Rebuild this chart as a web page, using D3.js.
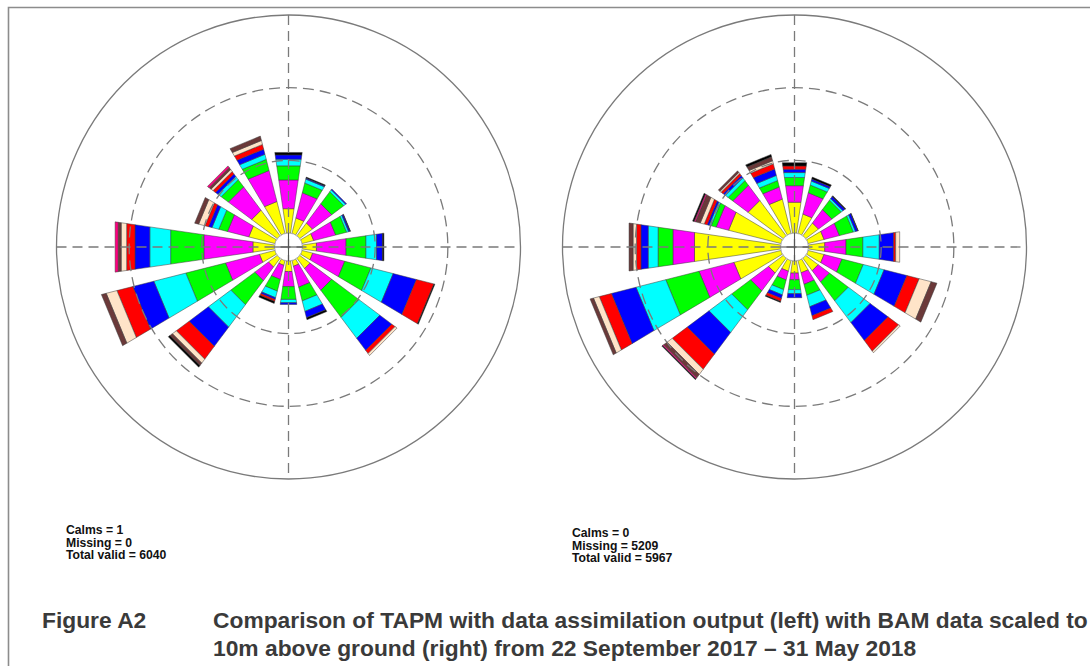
<!DOCTYPE html>
<html>
<head>
<meta charset="utf-8">
<script src="https://cdn.jsdelivr.net/npm/d3@7"></script>
<style>
  body { margin: 0; background: #fff; }
  svg { display: block; }
</style>
</head>
<body>
<div id="chart"></div>
<script>
// Wind directions, clockwise from north
const directions = ["N", "NNE", "NE", "ENE", "E", "ESE", "SE", "SSE", "S", "SSW", "SW", "WSW", "W", "WNW", "NW", "NNW"];

// Speed classes (inner to outer) and their colours
const speedClasses = ["c1", "c2", "c3", "c4", "c5", "c6", "c7", "c8", "c9", "c10"];
const classColors = ["#ffff00", "#ff00ff", "#00ff00", "#00ffff", "#0000ff", "#ff0000", "#ffe4c8", "#6b3939", "#ff0080", "#000000"];

// Frequency (%) by direction, one array per speed class - TAPM (left)
const tapmC1 = [1.70, 1.10, 1.10, 0.83, 0.98, 0.76, 0.89, 0.41, 0.74, 0.34, 0.76, 1.10, 1.51, 1.86, 2.20, 2.27];
const tapmC2 = [2.00, 1.79, 1.65, 1.56, 2.06, 2.27, 1.86, 1.48, 1.05, 1.00, 1.17, 2.41, 3.41, 1.51, 2.00, 2.20];
const tapmC3 = [0.98, 0.69, 1.03, 0.78, 1.38, 1.86, 2.34, 0.98, 0.89, 0.83, 2.06, 2.82, 2.31, 0.62, 0.62, 0.79];
const tapmC4 = [0.46, 0.28, 0.17, 0.14, 0.74, 1.58, 1.79, 0.74, 0.23, 0.47, 1.93, 2.27, 1.45, 0.48, 0.28, 0.36];
const tapmC5 = [0.30, 0.07, 0.07, 0.10, 0.41, 1.65, 1.03, 0.45, 0.12, 0.12, 1.65, 1.49, 1.03, 0.25, 0.21, 0.36];
const tapmC6 = [0, 0, 0, 0, 0, 1.24, 0.28, 0, 0, 0.14, 1.10, 1.13, 0.58, 0.25, 0.21, 0.34];
const tapmC7 = [0, 0, 0, 0, 0, 0, 0.17, 0, 0, 0, 0.34, 0.76, 0.38, 0.45, 0.17, 0.28];
const tapmC8 = [0, 0, 0, 0, 0, 0, 0, 0, 0, 0, 0.21, 0.34, 0.21, 0.28, 0.17, 0.31];
const tapmC9 = [0, 0, 0, 0, 0, 0, 0, 0, 0, 0, 0, 0, 0.21, 0, 0.14, 0];
const tapmC10 = [0.17, 0.07, 0, 0.03, 0.10, 0.07, 0, 0.14, 0, 0.14, 0.14, 0, 0, 0, 0, 0];

// Frequency (%) by direction - BAM scaled to 10m (right)
const bamC1 = [2.15, 1.38, 1.10, 1.14, 1.14, 1.14, 1.07, 0.87, 0.85, 0.76, 1.27, 3.34, 5.99, 3.72, 3.03, 2.44];
const bamC2 = [1.15, 1.51, 1.15, 1.09, 1.48, 1.27, 0.97, 0.82, 0.46, 0.62, 1.54, 2.48, 1.50, 0.88, 1.31, 0.86];
const bamC3 = [0.57, 0.55, 0.81, 0.99, 1.17, 1.51, 1.62, 0.78, 0.69, 0.69, 1.62, 2.36, 1.03, 0.36, 0.40, 0.46];
const bamC4 = [0.34, 0.28, 0.14, 0.15, 1.14, 1.48, 1.87, 0.81, 0.28, 0.37, 1.95, 2.11, 0.69, 0.14, 0.24, 0.36];
const bamC5 = [0.23, 0.14, 0.17, 0.17, 1.00, 1.62, 1.54, 0.64, 0.28, 0.25, 1.87, 1.75, 0.50, 0.14, 0.19, 0.46];
const bamC6 = [0.23, 0, 0, 0, 0.14, 0.87, 0.91, 0.28, 0, 0.21, 1.29, 0.86, 0.31, 0.21, 0.17, 0.37];
const bamC7 = [0, 0, 0, 0, 0.28, 0.85, 0.14, 0, 0, 0, 0.44, 0.41, 0.24, 0.28, 0.10, 0.21];
const bamC8 = [0, 0, 0, 0, 0, 0.41, 0, 0, 0, 0, 0.31, 0.24, 0.28, 0.34, 0.14, 0.28];
const bamC9 = [0, 0, 0, 0, 0, 0, 0, 0, 0, 0, 0.08, 0, 0, 0.10, 0, 0];
const bamC10 = [0.23, 0.14, 0.07, 0.03, 0, 0, 0, 0, 0, 0.07, 0.06, 0, 0, 0.10, 0, 0.17];

// Ring values (%) - dashed rings and the outer solid ring
const ringValues = [5, 10];
const outerValue = 15;

const tapmStats = ["Calms = 1", "Missing = 0", "Total valid = 6040"];
const bamStats = ["Calms = 0", "Missing = 5209", "Total valid = 5967"];

const captionLabel = "Figure A2";
const captionLines = [
  "Comparison of TAPM with data assimilation output (left) with BAM data scaled to",
  "10m above ground (right) from 22 September 2017 \u2013 31 May 2018"
];

// Layout
const width = 1090, height = 666;
const calmRadius = 14, outerRadius = 232;
const wedgeHalf = 8.25 * Math.PI / 180;
const gridColor = "#7a7a7a";

function makeTable(cols) {
  return directions.map((d, i) => {
    const row = { dir: d, idx: i };
    speedClasses.forEach((k, j) => { row[k] = cols[j][i]; });
    return row;
  });
}

const tapmTable = makeTable([tapmC1, tapmC2, tapmC3, tapmC4, tapmC5, tapmC6, tapmC7, tapmC8, tapmC9, tapmC10]);
const bamTable = makeTable([bamC1, bamC2, bamC3, bamC4, bamC5, bamC6, bamC7, bamC8, bamC9, bamC10]);

const svg = d3.select("#chart")
  .append("svg")
    .attr("width", width)
    .attr("height", height);

svg.append("rect")
  .attr("width", width)
  .attr("height", height)
  .attr("fill", "#fff");

// frame (top and left edges)
svg.append("path")
  .attr("d", `M8.5,${height} V7.5 H${width}`)
  .attr("fill", "none")
  .attr("stroke", "#8c8c8c")
  .attr("stroke-width", 1.6);

const radius = d3.scaleLinear().domain([0, outerValue]).range([calmRadius, outerRadius]);
const angle = d3.scaleLinear().domain([0, directions.length]).range([0, 2 * Math.PI]);
const color = d3.scaleOrdinal().domain(speedClasses).range(classColors);
const stack = d3.stack().keys(speedClasses);
const line = d3.line();

function wedge(a, v0, v1) {
  const r0 = radius(v0), r1 = radius(v1);
  return line([
    d3.pointRadial(a - wedgeHalf, r0),
    d3.pointRadial(a + wedgeHalf, r0),
    d3.pointRadial(a + wedgeHalf, r1),
    d3.pointRadial(a - wedgeHalf, r1)
  ]) + "Z";
}

function drawRose(cx, cy, table, stats, statsX, statsY) {
  const g = svg.append("g").attr("transform", `translate(${cx},${cy})`);
  const series = stack(table);

  // stacked wedges
  g.selectAll("g.layer")
    .data(series)
    .join("g")
      .attr("class", "layer")
      .attr("fill", d => color(d.key))
    .selectAll("path")
    .data(d => d.filter(p => p[1] - p[0] > 0))
    .join("path")
      .attr("d", p => wedge(angle(p.data.idx), p[0], p[1]))
      .attr("stroke", "#3a3a3a")
      .attr("stroke-width", 0.5);

  // calm circle
  g.append("circle")
    .attr("r", calmRadius)
    .attr("fill", "#fff")
    .attr("stroke", "#9a9a9a")
    .attr("stroke-width", 0.8);

  // dashed rings
  g.selectAll("circle.ring")
    .data(ringValues)
    .join("circle")
      .attr("class", "ring")
      .attr("r", d => radius(d))
      .attr("fill", "none")
      .attr("stroke", gridColor)
      .attr("stroke-width", 1.3)
      .attr("stroke-dasharray", "11,6");

  // outer ring
  g.append("circle")
    .attr("r", radius(outerValue))
    .attr("fill", "none")
    .attr("stroke", gridColor)
    .attr("stroke-width", 1.3);

  // dashed cross through the centre
  const R = radius(outerValue);
  [[-R, 0, R, 0], [0, -R, 0, R]].forEach(([x1, y1, x2, y2]) => {
    g.append("line")
      .attr("x1", x1).attr("y1", y1).attr("x2", x2).attr("y2", y2)
      .attr("stroke", gridColor)
      .attr("stroke-width", 1.3)
      .attr("stroke-dasharray", "10,6");
  });
  // solid cross inside calm circle
  [[-calmRadius, 0, calmRadius, 0], [0, -calmRadius, 0, calmRadius]].forEach(([x1, y1, x2, y2]) => {
    g.append("line")
      .attr("x1", x1).attr("y1", y1).attr("x2", x2).attr("y2", y2)
      .attr("stroke", "#555")
      .attr("stroke-width", 1.1);
  });

  // stats text
  svg.append("g")
    .selectAll("text")
    .data(stats)
    .join("text")
      .attr("x", statsX)
      .attr("y", (d, i) => statsY + i * 12.7)
      .attr("font-family", "'Liberation Sans', Arial, sans-serif")
      .attr("font-weight", "bold")
      .attr("font-size", 12.2)
      .attr("fill", "#111")
      .text(d => d);
}

drawRose(288.5, 247, tapmTable, tapmStats, 66, 534);
drawRose(794.5, 247, bamTable, bamStats, 572, 537);

// caption
const capFont = "'Liberation Sans', Arial, Helvetica, sans-serif";
svg.append("text")
  .attr("x", 42)
  .attr("y", 628)
  .attr("font-family", capFont)
  .attr("font-weight", "bold")
  .attr("font-size", 22.8)
  .attr("fill", "#3a3a3a")
  .text(captionLabel);

svg.append("g")
  .selectAll("text")
  .data(captionLines)
  .join("text")
    .attr("x", 213)
    .attr("y", (d, i) => 628 + i * 28)
    .attr("font-family", capFont)
    .attr("font-weight", "bold")
    .attr("font-size", 22.8)
    .attr("fill", "#3a3a3a")
    .text(d => d);
</script>
</body>
</html>
